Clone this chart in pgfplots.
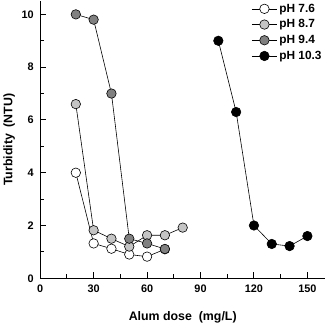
\documentclass[border=0pt]{standalone}
\usepackage{pgfplots}
\pgfplotsset{compat=1.18}
\usepackage{fontspec}
\setmainfont{Liberation Sans}
\definecolor{lg}{HTML}{C4C4C4}
\definecolor{dg}{HTML}{808080}
\begin{document}
\begin{tikzpicture}
\begin{axis}[
  scale only axis,
  width=287bp, height=279bp,
  xmin=0, xmax=160, ymin=0, ymax=10.5,
  axis x line=bottom, axis y line=left,
  axis line style={-, line width=1.3pt},
  xtick={0,30,60,90,120,150},
  minor xtick={15,45,75,105,135},
  ytick={0,2,4,6,8,10},
  minor ytick={1,3,5,7,9},
  tick align=inside,
  major tick length=6pt, minor tick length=4pt,
  every tick/.style={line width=1pt, black},
  tick label style={font=\bfseries\fontsize{11}{12}\selectfont},
  /pgf/number format/assume math mode=true,
  xticklabel style={yshift=-3pt},
  yticklabel style={xshift=-3pt},
  xlabel={\bfseries Alum dose\ \ (mg/L)},
  ylabel={\bfseries Turbidity\ \ (NTU)},
  label style={font=\bfseries\fontsize{12.5}{13}\selectfont},
  xlabel style={yshift=-12pt},
  ylabel style={yshift=0pt},
  legend style={draw=none, fill=none, at={(rel axis cs:0.995,1.005)}, anchor=north east,
    font=\bfseries\fontsize{12}{13}\selectfont, row sep=2pt, inner xsep=0pt,
    nodes={inner xsep=2pt},
    /tikz/every even column/.append style={column sep=3pt}},
  legend cell align=left,
  legend image code/.code={\draw[mark repeat=2,mark phase=2,#1] plot coordinates {(0cm,0cm)(0.45cm,0cm)(0.9cm,0cm)};},
  every axis plot/.append style={line width=0.6pt, black, mark=*, mark size=4.8pt,
    mark options={draw=black, line width=0.6pt}},
]
\addplot[mark options={fill=white}] coordinates {(20,4.0) (30,1.32) (40,1.12) (50,0.9) (60,0.82) (70,1.1)};
\addlegendentry{pH 7.6}
\addplot[mark options={fill=lg}] coordinates {(20,6.6) (30,1.82) (40,1.5) (50,1.2) (60,1.63) (70,1.63) (80,1.92)};
\addlegendentry{pH 8.7}
\addplot[mark options={fill=dg}] coordinates {(20,10.0) (30,9.8) (40,7.0) (50,1.5) (60,1.32) (70,1.11)};
\addlegendentry{pH 9.4}
\addplot[mark options={fill=black}] coordinates {(100,9.0) (110,6.3) (120,2.0) (130,1.3) (140,1.22) (150,1.6)};
\addlegendentry{pH 10.3}
\end{axis}
\end{tikzpicture}
\end{document}
